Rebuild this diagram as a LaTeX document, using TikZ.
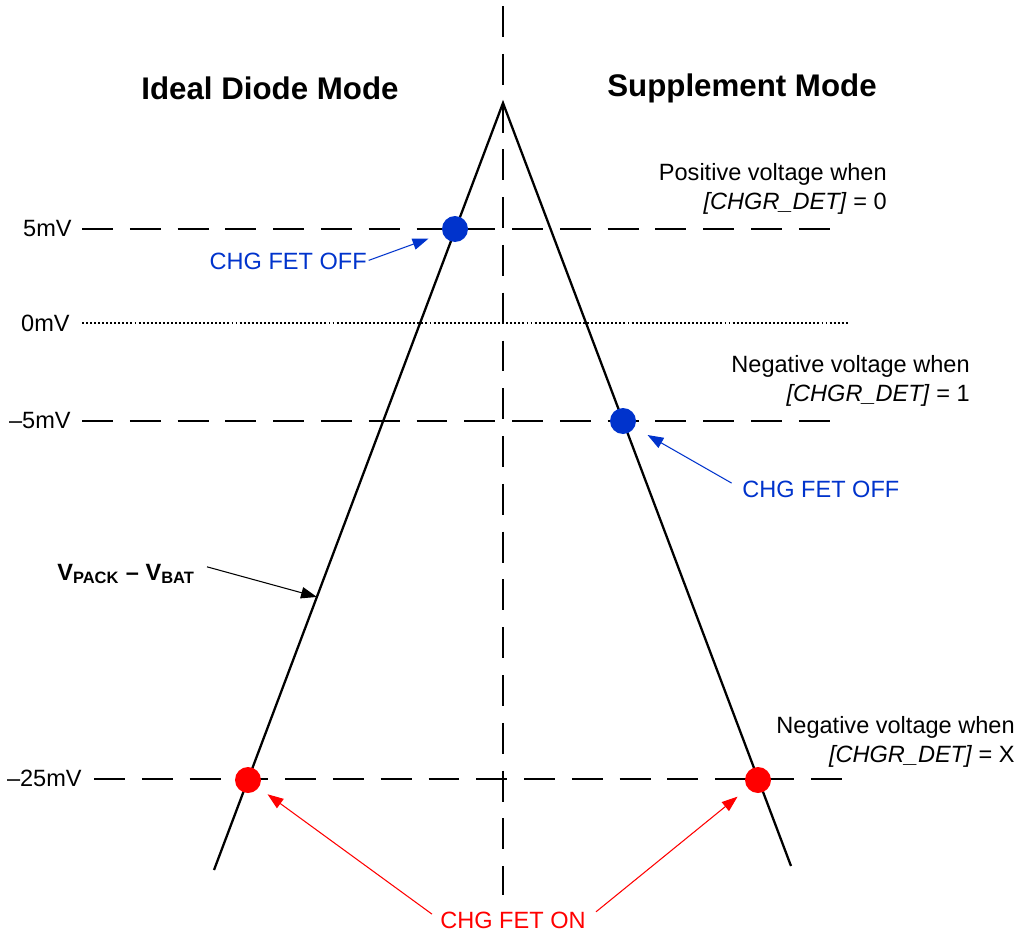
\documentclass[tikz,border=0pt]{standalone}
\usepackage{fontspec}
\setmainfont{Liberation Sans}
\usepackage{tikz}
\usetikzlibrary{arrows.meta,positioning}
\definecolor{fetblue}{HTML}{0033CC}
\definecolor{fetred}{HTML}{FF0000}

\begin{document}
\begin{tikzpicture}[
    x=0.02cm, y=-0.02cm,
    title/.style={font=\fontsize{17.8}{21}\selectfont\bfseries, inner sep=0pt},
    label/.style={font=\fontsize{13.4}{16.4}\selectfont, text=black, inner sep=0pt},
    note/.style={label, align=right, anchor=east},
    level/.style={line width=1.1pt, dash pattern=on 17.6pt off 9.6pt},
    zero/.style={line width=0.7pt, dash pattern=on 1.1pt off 1.2pt},
    trace/.style={line width=1.3pt, line join=miter},
    dot/.style={circle, inner sep=0pt, minimum size=0.52cm},
    arrow/.style={-{Triangle[length=9pt, width=6.5pt]}, line width=0.6pt}
  ]
  \useasboundingbox (0,0) rectangle (1021,933);

  % Nodes
  \node[title] (ideal) at (270,88) {Ideal Diode Mode};
  \node[title] (supp) at (742,88) {Supplement Mode};

  \node[label, anchor=east] (lvA) at (72,229) {5mV};
  \node[label, anchor=east] (lvB) at (70,323) {0mV};
  \node[label, anchor=east] (lvC) at (71,421) {–5mV};
  \node[label, anchor=east] (lvD) at (82,778) {–25mV};

  \node[note] (noteA) at (887,189) {Positive voltage when\\\textit{[CHGR\_DET]} = 0};
  \node[note] (noteB) at (970,381) {Negative voltage when\\\textit{[CHGR\_DET]} = 1};
  \node[note] (noteC) at (1015,742) {Negative voltage when\\\textit{[CHGR\_DET]} = X};

  \node[label, text=fetblue, anchor=east] (offA) at (367,261) {CHG FET OFF};
  \node[label, text=fetblue, anchor=west] (offB) at (742,489) {CHG FET OFF};
  \node[label, text=fetred] (onlbl) at (513,920) {CHG FET ON};
  \node[label, anchor=west, font=\fontsize{13.4}{16.4}\selectfont\bfseries] (vlbl) at (57,574)
    {V\textsubscript{PACK} – V\textsubscript{BAT}};

  % Axes and levels
  \draw[level] (503,6) -- (503,895);
  \draw[level] (82,229) -- (832,229);
  \draw[zero] (82,323) -- (848,323);
  \draw[level] (82,421) -- (832,421);
  \draw[level] (94,779) -- (846,779);

  % Trace
  \coordinate (apex) at (503,103);
  \coordinate (lend) at (214,870);
  \coordinate (rend) at (791,866);
  \draw[trace] (lend) -- (apex) -- (rend);
  \path (apex) -- (lend) coordinate[pos=0.644] (hit);

  % Dots
  \node[dot, fill=fetblue] (bdotA) at (455,229) {};
  \node[dot, fill=fetblue] (bdotB) at (623,421) {};
  \node[dot, fill=fetred] (rdotA) at (248,780) {};
  \node[dot, fill=fetred] (rdotB) at (758,780) {};

  % Arrows
  \draw[arrow, fetblue, shorten <=1pt, shorten >=8.5pt] (offA.east) -- (bdotA);
  \draw[arrow, fetblue, shorten <=6.8pt, shorten >=8.5pt] (offB.west) -- (bdotB);
  \draw[arrow, shorten <=7pt] (vlbl.north east) -- (hit);
  \draw[arrow, fetred, shorten <=5.7pt, shorten >=6.2pt] (onlbl.west) -- (rdotA);
  \draw[arrow, fetred, shorten <=7.4pt, shorten >=7.4pt] (onlbl.east) -- (rdotB);
\end{tikzpicture}
\end{document}
